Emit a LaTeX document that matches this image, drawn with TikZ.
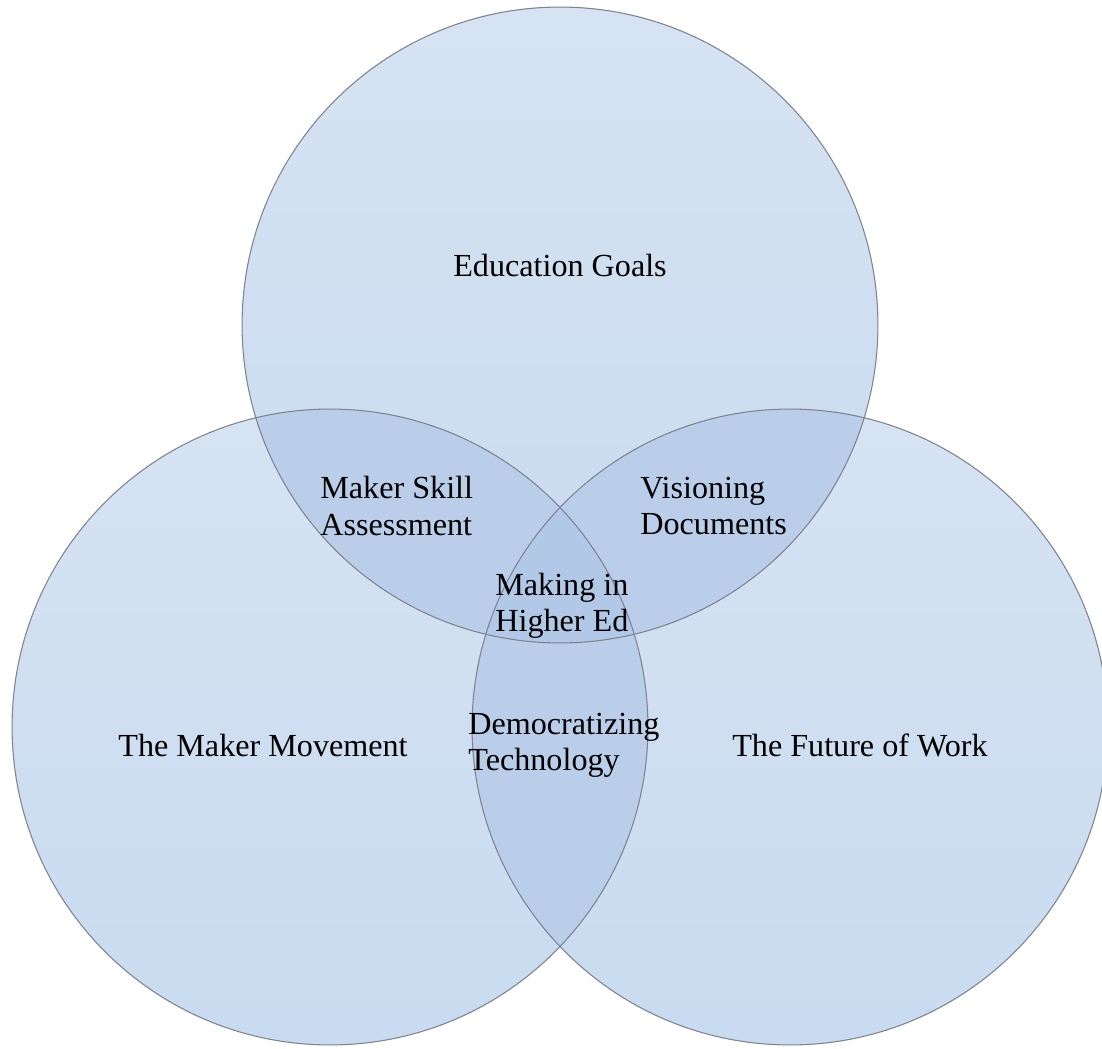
\documentclass[tikz,border=0pt]{standalone}
\usepackage{fontspec}
\setmainfont{Liberation Serif}
\usetikzlibrary{positioning}

\definecolor{vtop}{RGB}{214,227,242}
\definecolor{vbot}{RGB}{200,219,240}
\definecolor{vtwo}{RGB}{186,206,233}
\definecolor{vthree}{RGB}{178,200,231}
\definecolor{vennline}{RGB}{125,132,142}

\def\rad{318}

\begin{document}
\begin{tikzpicture}[x=0.02cm,y=-0.02cm,
  venn/.style={circle,draw=vennline,line width=0.6pt,minimum size=12.72cm,inner sep=0pt,outer sep=0pt},
  lbl/.style={font=\fontsize{18.3}{20.5}\selectfont,align=left,text=black,inner sep=0pt}]
% three overlapping circles, pixel-like units (y runs down)
\useasboundingbox (0,0) rectangle (1102,1048);
\coordinate (cE) at (560,325);
\coordinate (cM) at (330,727);
\coordinate (cW) at (790,727);
% single areas, light vertical fade
\foreach \c in {cE,cM,cW}
  \shade[top color=vtop,bottom color=vbot] (\c) circle (\rad);
% pairwise overlaps
\begin{scope}
  \clip (cE) circle (\rad);
  \fill[vtwo] (cM) circle (\rad);
  \fill[vtwo] (cW) circle (\rad);
\end{scope}
\begin{scope}
  \clip (cM) circle (\rad);
  \fill[vtwo] (cW) circle (\rad);
\end{scope}
% centre where all three meet
\begin{scope}
  \clip (cE) circle (\rad);
  \clip (cM) circle (\rad);
  \fill[vthree] (cW) circle (\rad);
\end{scope}
% outlines
\node[venn] (edu) at (cE) {};
\node[venn] (maker) at (cM) {};
\node[venn] (work) at (cW) {};
% circle titles
\node[lbl] (eduL) at (560,265) {Education Goals};
\node[lbl] (makerL) at (263,745) {The Maker Movement};
\node[lbl] (workL) at (860,745) {The Future of Work};
% pairwise and triple overlaps
\node[lbl,anchor=west] (skill) at (320,506) {Maker Skill\\Assessment};
\node[lbl,anchor=west] (vision) at (640,506) {Visioning\\Documents};
\node[lbl,anchor=west] (higher) at (495,606) {Making in\\Higher Ed};
\node[lbl,anchor=west] (democ) at (468,745) {Democratizing\\Technology};
\end{tikzpicture}
\end{document}
